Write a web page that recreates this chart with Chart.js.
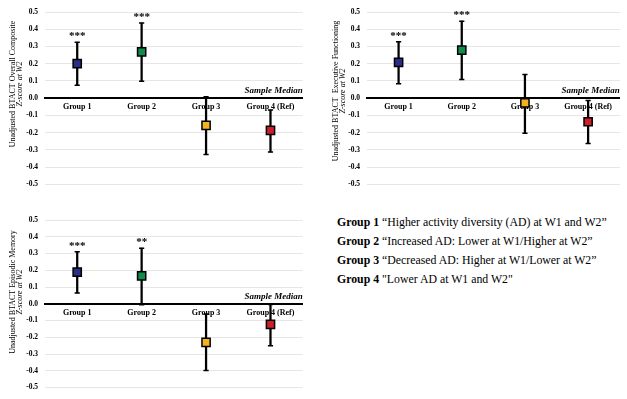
<!DOCTYPE html>
<html>
<head>
<meta charset="utf-8">
<script src="https://cdn.jsdelivr.net/npm/chart.js@4.4.1/dist/chart.umd.min.js"></script>
<style>
  body { margin: 0; background: #fff; width: 627px; height: 399px; overflow: hidden; position: relative; }
  canvas { position: absolute; }
  #legend { position: absolute; left: 337px; top: 213px; font-family: 'Liberation Serif'; font-size: 11.8px; line-height: 19px; color: #000; white-space: nowrap; }
</style>
</head>
<body>
<canvas id="c1" width="310" height="200" style="left:0;top:0"></canvas>
<canvas id="c2" width="317" height="200" style="left:310px;top:0"></canvas>
<canvas id="c3" width="310" height="199" style="left:0;top:200px"></canvas>
<div id="legend"></div>
<script>
const groups = ['Group 1', 'Group 2', 'Group 3', 'Group 4 (Ref)'];
const groupColors = ['#2b2e86', '#0e8c4c', '#f5b223', '#cc1f2b'];
const groupNotes = [
  '“Higher activity diversity (AD) at W1 and W2”',
  '“Increased AD: Lower at W1/Higher at W2”',
  '“Decreased AD: Higher at W1/Lower at W2”',
  '"Lower AD at W1 and W2"'
];

// Overall composite
const overallMean = [0.20, 0.268, -0.158, -0.187];
const overallLow = [0.075, 0.098, -0.327, -0.312];
const overallHigh = [0.324, 0.436, 0.008, -0.069];
const overallStars = ['***', '***', '', ''];

// Executive functioning
const execMean = [0.208, 0.279, -0.027, -0.137];
const execLow = [0.084, 0.108, -0.203, -0.263];
const execHigh = [0.327, 0.447, 0.137, -0.014];
const execStars = ['***', '***', '', ''];

// Episodic memory
const memoryMean = [0.189, 0.166, -0.231, -0.123];
const memoryLow = [0.064, -0.006, -0.399, -0.25];
const memoryHigh = [0.31, 0.332, -0.061, -0.004];
const memoryStars = ['***', '**', '', ''];

const serif = 'Liberation Serif';

// legend text on the lower right
document.getElementById('legend').innerHTML = groups
  .map((g, i) => `<div><b>${g.replace(' (Ref)', '')}</b> ${groupNotes[i]}</div>`)
  .join('');

function panel(id, title, mean, low, high, stars, box) {
  const extras = {
    id: 'extras',
    afterDatasetsDraw(chart) {
      const { ctx, chartArea, scales: { x, y } } = chart;
      ctx.save();
      ctx.fillStyle = '#000';
      // significance stars above the upper whisker
      ctx.font = `bold 11px ${serif}`;
      ctx.textAlign = 'center';
      ctx.textBaseline = 'middle';
      stars.forEach((s, i) => {
        if (s) ctx.fillText(s, x.getPixelForValue(i), y.getPixelForValue(high[i]) - 6);
      });
      ctx.font = `italic bold 9px ${serif}`;
      ctx.textAlign = 'right';
      ctx.textBaseline = 'alphabetic';
      ctx.fillText('Sample Median', chartArea.right, y.getPixelForValue(0) - 5);
      // y axis title, two lines
      ctx.translate(box.titleX, box.titleY);
      ctx.rotate(-Math.PI / 2);
      ctx.textBaseline = 'middle';
      ctx.textAlign = 'center';
      ctx.font = `8px ${serif}`;
      ctx.fillText(title, 0, 0);
      ctx.font = `italic 8px ${serif}`;
      ctx.fillText('Z-score at W2', 0, 7);
      ctx.restore();
    }
  };

  return new Chart(document.getElementById(id), {
    type: 'bar',
    data: {
      labels: groups,
      datasets: [
        {
          type: 'line', data: mean, showLine: false, order: 0,
          pointStyle: 'rect', pointRadius: 5.8, pointBackgroundColor: groupColors,
          pointBorderColor: '#000', pointBorderWidth: 1.5
        },
        {
          type: 'line', data: low, showLine: false, order: 1,
          pointStyle: 'line', pointRadius: 2.6, pointBorderColor: '#000', pointBorderWidth: 1.5
        },
        {
          type: 'line', data: high, showLine: false, order: 1,
          pointStyle: 'line', pointRadius: 2.6, pointBorderColor: '#000', pointBorderWidth: 1.5
        },
        {
          data: low.map((l, i) => [l, high[i]]), order: 2,
          backgroundColor: '#000', barThickness: 1.6
        }
      ]
    },
    options: {
      responsive: false,
      animation: false,
      events: [],
      layout: { padding: { top: box.top, bottom: box.bottom, right: box.right, left: 0 } },
      plugins: { legend: { display: false }, tooltip: { enabled: false } },
      scales: {
        x: {
          position: { y: 0 },
          offset: true,
          grid: { display: false, drawTicks: false },
          border: { color: '#000', width: 2 },
          ticks: { color: '#000', padding: 4, font: { family: serif, size: 8, weight: 'bold' } }
        },
        y: {
          min: -0.5,
          max: 0.5,
          afterFit: (s) => { s.width = box.axisW; },
          grid: { color: '#e6e6e6', drawTicks: false },
          border: { display: false },
          ticks: {
            stepSize: 0.1,
            padding: 7,
            color: '#000',
            font: { family: serif, size: 7.5, weight: 'bold' },
            callback: (v) => (Math.abs(v) < 1e-9 ? 0 : v).toFixed(1)
          }
        }
      }
    },
    plugins: [extras]
  });
}

panel('c1', 'Unadjusted BTACT Overall Composite', overallMean, overallLow, overallHigh, overallStars,
  { top: 12, bottom: 15.7, right: 5, axisW: 45, titleX: 12.5, titleY: 84 });
panel('c2', 'Unadjusted BTACT  Executive Functioning', execMean, execLow, execHigh, execStars,
  { top: 12, bottom: 15.7, right: 0, axisW: 57, titleX: 25.5, titleY: 91 });
panel('c3', 'Unadjusted BTACT Episodic Memory', memoryMean, memoryLow, memoryHigh, memoryStars,
  { top: 20, bottom: 6.3, right: 5, axisW: 45, titleX: 12.5, titleY: 92 });
</script>
</body>
</html>
